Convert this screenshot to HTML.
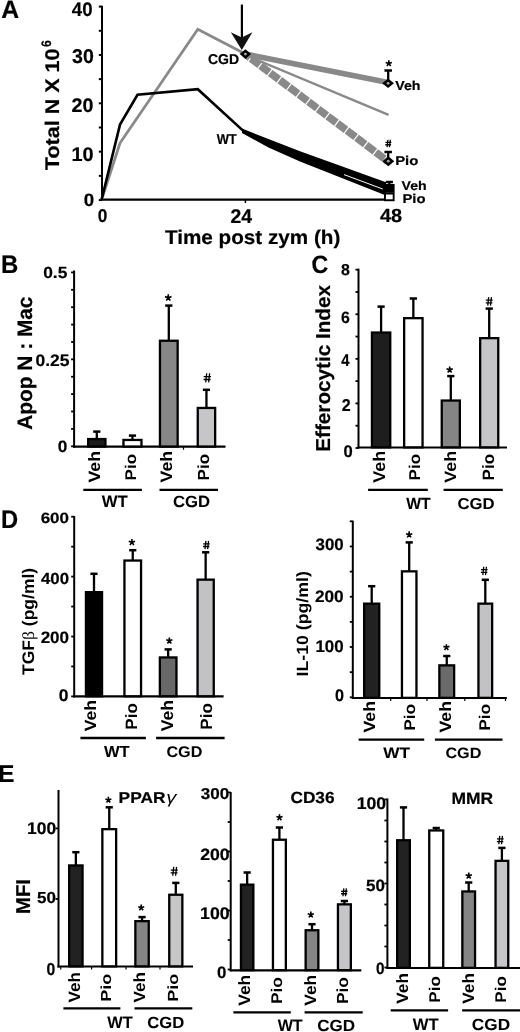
<!DOCTYPE html>
<html><head><meta charset="utf-8"><style>
html,body{margin:0;padding:0;background:#fff;}
body{width:520px;height:1032px;overflow:hidden;}
svg{display:block;filter:blur(0.3px);}
text{font-family:"Liberation Sans", sans-serif;text-rendering:geometricPrecision;}
</style></head><body>
<svg width="520" height="1032" viewBox="0 0 520 1032">
<rect width="520" height="1032" fill="#fff"/>
<text transform="translate(1.33,17.55) scale(0.9825,1)" font-size="25.22" font-family='"Liberation Sans", sans-serif' font-weight="bold" style="" fill="#000" stroke="#000" stroke-width="0.2">A</text>
<line x1="102" y1="5.8" x2="102" y2="201" stroke="#000" stroke-width="2" />
<line x1="98.8" y1="6.6" x2="102" y2="6.6" stroke="#000" stroke-width="2" />
<line x1="98.8" y1="30.78" x2="102" y2="30.78" stroke="#000" stroke-width="2" />
<line x1="98.8" y1="54.96" x2="102" y2="54.96" stroke="#000" stroke-width="2" />
<line x1="98.8" y1="79.13999999999999" x2="102" y2="79.13999999999999" stroke="#000" stroke-width="2" />
<line x1="98.8" y1="103.32" x2="102" y2="103.32" stroke="#000" stroke-width="2" />
<line x1="98.8" y1="127.5" x2="102" y2="127.5" stroke="#000" stroke-width="2" />
<line x1="98.8" y1="151.67999999999998" x2="102" y2="151.67999999999998" stroke="#000" stroke-width="2" />
<line x1="98.8" y1="175.85999999999999" x2="102" y2="175.85999999999999" stroke="#000" stroke-width="2" />
<line x1="98.8" y1="200.04" x2="102" y2="200.04" stroke="#000" stroke-width="2" />
<text transform="translate(71.87,15.95) scale(0.9538,1)" font-size="19.58" font-family='"Liberation Sans", sans-serif' font-weight="bold" style="" fill="#000" stroke="#000" stroke-width="0.2">40</text>
<text transform="translate(72.06,62.55) scale(0.9761,1)" font-size="20.00" font-family='"Liberation Sans", sans-serif' font-weight="bold" style="" fill="#000" stroke="#000" stroke-width="0.2">30</text>
<text transform="translate(71.46,112.25) scale(1.0068,1)" font-size="19.58" font-family='"Liberation Sans", sans-serif' font-weight="bold" style="" fill="#000" stroke="#000" stroke-width="0.2">20</text>
<text transform="translate(71.46,160.65) scale(1.0093,1)" font-size="19.72" font-family='"Liberation Sans", sans-serif' font-weight="bold" style="" fill="#000" stroke="#000" stroke-width="0.2">10</text>
<text transform="translate(83.80,205.97) scale(1.0475,1)" font-size="17.89" font-family='"Liberation Sans", sans-serif' font-weight="bold" style="" fill="#000" stroke="#000" stroke-width="0.2">0</text>
<line x1="101" y1="199.7" x2="389" y2="199.7" stroke="#000" stroke-width="2.2" />
<line x1="245.4" y1="200" x2="245.4" y2="203" stroke="#000" stroke-width="1.5" />
<text transform="translate(97.66,222.16) scale(0.9285,1)" font-size="18.59" font-family='"Liberation Sans", sans-serif' font-weight="bold" style="" fill="#000" stroke="#000" stroke-width="0.2">0</text>
<text transform="translate(230.47,222.55) scale(0.9790,1)" font-size="19.86" font-family='"Liberation Sans", sans-serif' font-weight="bold" style="" fill="#000" stroke="#000" stroke-width="0.2">24</text>
<text transform="translate(380.05,222.16) scale(1.0469,1)" font-size="19.01" font-family='"Liberation Sans", sans-serif' font-weight="bold" style="" fill="#000" stroke="#000" stroke-width="0.2">48</text>
<text transform="translate(164.94,243.50) scale(1.0452,1)" font-size="19.79" font-family='"Liberation Sans", sans-serif' font-weight="bold" style="" fill="#000" stroke="#000" stroke-width="0.2">Time post zym (h)</text>
<text transform="translate(58.70,170.17) rotate(-90) scale(1.0889,1)" font-size="19.79" font-family='"Liberation Sans", sans-serif' font-weight="bold" fill="#000" stroke="#000" stroke-width="0.2">Total N X 10</text>
<text transform="translate(50.71,47.08) rotate(-90) scale(0.8813,1)" font-size="13.80" font-family='"Liberation Sans", sans-serif' font-weight="bold" fill="#000" stroke="#000" stroke-width="0.2">6</text>
<line x1="241.9" y1="4.6" x2="241.9" y2="38" stroke="#000" stroke-width="2.2" />
<polygon points="230.8,32.2 241.8,37.6 252.4,32.2 241.8,50" fill="#111"/>
<polyline points="101.5,200 120,143 197.8,29.2 245.4,54" fill="none" stroke="#898989" stroke-width="2.8" stroke-linejoin="miter"/>
<line x1="246" y1="55.3" x2="388.6" y2="114.8" stroke="#898989" stroke-width="2.4" />
<line x1="245.4" y1="54" x2="388.1" y2="82.6" stroke="#898989" stroke-width="5.6" />
<line x1="247" y1="55.5" x2="387.7" y2="161.2" stroke="#898989" stroke-width="7.6" stroke-dasharray="10.8 1.2" stroke-dashoffset="7"/>
<polyline points="101.5,200 120,124.6 137.5,94.8 197.8,89.2 243,130.6" fill="none" stroke="#000" stroke-width="2.6" stroke-linejoin="miter"/>
<polygon points="242,128.6 300,151.3 386,182.3 386,195.5 300,161.4 268.5,147.5 242,133" fill="#000"/>
<line x1="344" y1="174.6" x2="382.7" y2="189" stroke="#fff" stroke-width="1" />
<rect x="385.15" y="185.15" width="8.30" height="6.50" fill="#000" stroke="#000" stroke-width="2.3"/>
<line x1="389.3" y1="184.5" x2="389.3" y2="182" stroke="#000" stroke-width="2.3" />
<line x1="385.7" y1="182" x2="392.90000000000003" y2="182" stroke="#000" stroke-width="2.5" />
<rect x="384.95" y="193.55" width="8.70" height="6.70" fill="#fff" stroke="#000" stroke-width="1.9"/>
<polygon points="245.4,49.2 251.1,54.1 245.4,59.0 239.70000000000002,54.1" fill="#000"/>
<circle cx="245.4" cy="54.1" r="1.4" fill="#aaa"/>
<line x1="388.2" y1="80" x2="388.2" y2="70.5" stroke="#000" stroke-width="2.3" />
<line x1="384.45" y1="70.5" x2="391.95" y2="70.5" stroke="#000" stroke-width="2.5" />
<polygon points="388.1,78.5 394.0,83.3 388.1,88.1 382.20000000000005,83.3" fill="#000"/>
<circle cx="388.1" cy="83.3" r="1.4" fill="#aaa"/>
<line x1="388.2" y1="157" x2="388.2" y2="152" stroke="#000" stroke-width="2.3" />
<line x1="384.45" y1="152" x2="391.95" y2="152" stroke="#000" stroke-width="2.5" />
<polygon points="388.3,156.2 394.3,161.2 388.3,166.2 382.3,161.2" fill="#000"/>
<circle cx="388.3" cy="161.2" r="1.4" fill="#aaa"/>
<path d="M388.80,63.41L388.80,60.16M388.80,63.41L391.89,62.41M388.80,63.41L390.71,66.05M388.80,63.41L386.89,66.05M388.80,63.41L385.71,62.41" stroke="#000" stroke-width="1.6" stroke-linecap="butt" fill="none"/>
<path d="M387.93,139.70L387.10,147.10M390.30,139.70L389.47,147.10M385.44,142.36L391.36,142.36M385.34,144.73L391.07,144.73" stroke="#000" stroke-width="1.3" fill="none"/>
<text transform="translate(207.99,64.21) scale(0.9855,1)" font-size="14.23" font-family='"Liberation Sans", sans-serif' font-weight="bold" style="" fill="#000" stroke="#000" stroke-width="0.2">CGD</text>
<text transform="translate(216.65,144.25) scale(0.9022,1)" font-size="14.35" font-family='"Liberation Sans", sans-serif' font-weight="bold" style="" fill="#000" stroke="#000" stroke-width="0.2">WT</text>
<text transform="translate(395.28,89.92) scale(1.0962,1)" font-size="12.93" font-family='"Liberation Sans", sans-serif' font-weight="bold" style="" fill="#000" stroke="#000" stroke-width="0.2">Veh</text>
<text transform="translate(395.18,165.32) scale(1.1773,1)" font-size="12.65" font-family='"Liberation Sans", sans-serif' font-weight="bold" style="" fill="#000" stroke="#000" stroke-width="0.2">Pio</text>
<text transform="translate(401.48,189.92) scale(1.1079,1)" font-size="12.79" font-family='"Liberation Sans", sans-serif' font-weight="bold" style="" fill="#000" stroke="#000" stroke-width="0.2">Veh</text>
<text transform="translate(402.39,203.32) scale(1.1719,1)" font-size="12.65" font-family='"Liberation Sans", sans-serif' font-weight="bold" style="" fill="#000" stroke="#000" stroke-width="0.2">Pio</text>
<text transform="translate(1.09,273.35) scale(0.9437,1)" font-size="25.36" font-family='"Liberation Sans", sans-serif' font-weight="bold" style="" fill="#000" stroke="#000" stroke-width="0.2">B</text>
<line x1="74.1" y1="270.5" x2="74.1" y2="447.7" stroke="#000" stroke-width="2" />
<line x1="71.1" y1="446.3" x2="74.1" y2="446.3" stroke="#000" stroke-width="1.8" />
<line x1="71.1" y1="428.91" x2="74.1" y2="428.91" stroke="#000" stroke-width="1.8" />
<line x1="71.1" y1="411.52" x2="74.1" y2="411.52" stroke="#000" stroke-width="1.8" />
<line x1="71.1" y1="394.13" x2="74.1" y2="394.13" stroke="#000" stroke-width="1.8" />
<line x1="71.1" y1="376.74" x2="74.1" y2="376.74" stroke="#000" stroke-width="1.8" />
<line x1="71.1" y1="359.35" x2="74.1" y2="359.35" stroke="#000" stroke-width="1.8" />
<line x1="71.1" y1="341.96000000000004" x2="74.1" y2="341.96000000000004" stroke="#000" stroke-width="1.8" />
<line x1="71.1" y1="324.57" x2="74.1" y2="324.57" stroke="#000" stroke-width="1.8" />
<line x1="71.1" y1="307.18" x2="74.1" y2="307.18" stroke="#000" stroke-width="1.8" />
<line x1="71.1" y1="289.79" x2="74.1" y2="289.79" stroke="#000" stroke-width="1.8" />
<line x1="71.1" y1="272.4" x2="74.1" y2="272.4" stroke="#000" stroke-width="1.8" />
<line x1="73.1" y1="446.7" x2="225.5" y2="446.7" stroke="#000" stroke-width="2.2" />
<line x1="183.5" y1="446.7" x2="183.5" y2="449.7" stroke="#000" stroke-width="1.2" />
<rect x="88.15" y="439.05" width="17.30" height="7.50" fill="#1c1c1c" stroke="#000" stroke-width="2.3"/>
<line x1="96.8" y1="438.9" x2="96.8" y2="431.6" stroke="#000" stroke-width="2.3" />
<line x1="93.2" y1="431.6" x2="100.39999999999999" y2="431.6" stroke="#000" stroke-width="2.5" />
<rect x="123.45" y="439.95" width="18.00" height="6.60" fill="#fff" stroke="#000" stroke-width="2.3"/>
<line x1="132.45" y1="439.8" x2="132.45" y2="435.6" stroke="#000" stroke-width="2.3" />
<line x1="128.85" y1="435.6" x2="136.04999999999998" y2="435.6" stroke="#000" stroke-width="2.5" />
<rect x="159.95" y="340.75" width="17.70" height="105.80" fill="#878787" stroke="#000" stroke-width="2.3"/>
<line x1="168.8" y1="340.6" x2="168.8" y2="305.6" stroke="#000" stroke-width="2.3" />
<line x1="165.20000000000002" y1="305.6" x2="172.4" y2="305.6" stroke="#000" stroke-width="2.5" />
<path d="M168.25,297.68L168.25,294.26M168.25,297.68L171.50,296.62M168.25,297.68L170.26,300.45M168.25,297.68L166.24,300.45M168.25,297.68L165.00,296.62" stroke="#000" stroke-width="1.6" stroke-linecap="butt" fill="none"/>
<rect x="197.75" y="407.95" width="17.40" height="38.60" fill="#c6c6c8" stroke="#000" stroke-width="2.3"/>
<line x1="206.45" y1="407.8" x2="206.45" y2="389.8" stroke="#000" stroke-width="2.3" />
<line x1="202.85" y1="389.8" x2="210.04999999999998" y2="389.8" stroke="#000" stroke-width="2.5" />
<path d="M206.72,373.30L205.70,382.40M209.62,373.30L208.61,382.40M203.67,376.58L210.93,376.58M203.57,379.49L210.56,379.49" stroke="#000" stroke-width="1.3" fill="none"/>
<text transform="translate(43.16,278.29) scale(1.0811,1)" font-size="16.06" font-family='"Liberation Sans", sans-serif' font-weight="bold" style="" fill="#000" stroke="#000" stroke-width="0.2">0.5</text>
<text transform="translate(35.55,365.88) scale(1.0498,1)" font-size="16.62" font-family='"Liberation Sans", sans-serif' font-weight="bold" style="" fill="#000" stroke="#000" stroke-width="0.2">0.25</text>
<text transform="translate(57.76,452.39) scale(1.0476,1)" font-size="16.48" font-family='"Liberation Sans", sans-serif' font-weight="bold" style="" fill="#000" stroke="#000" stroke-width="0.2">0</text>
<text transform="translate(31.90,429.67) rotate(-90) scale(0.9950,1)" font-size="20.94" font-family='"Liberation Sans", sans-serif' font-weight="bold" fill="#000" stroke="#000" stroke-width="0.2">Apop N : Mac</text>
<text transform="translate(100.39,482.44) rotate(-90) scale(1.0732,1)" font-size="16.46" font-family='"Liberation Sans", sans-serif' font-weight="bold" fill="#000">Veh</text>
<text transform="translate(135.99,480.46) rotate(-90) scale(1.1027,1)" font-size="15.51" font-family='"Liberation Sans", sans-serif' font-weight="bold" fill="#000">Pio</text>
<text transform="translate(172.08,482.44) rotate(-90) scale(1.0714,1)" font-size="16.60" font-family='"Liberation Sans", sans-serif' font-weight="bold" fill="#000">Veh</text>
<text transform="translate(209.39,480.46) rotate(-90) scale(1.0653,1)" font-size="16.05" font-family='"Liberation Sans", sans-serif' font-weight="bold" fill="#000">Pio</text>
<line x1="83.3" y1="489.8" x2="141.9" y2="489.8" stroke="#000" stroke-width="2.3" />
<line x1="159.5" y1="489.8" x2="218" y2="489.8" stroke="#000" stroke-width="2.3" />
<text transform="translate(101.65,507.35) scale(1.0058,1)" font-size="16.67" font-family='"Liberation Sans", sans-serif' font-weight="bold" style="" fill="#000" stroke="#000" stroke-width="0.05">WT</text>
<text transform="translate(172.88,507.19) scale(1.0328,1)" font-size="16.20" font-family='"Liberation Sans", sans-serif' font-weight="bold" style="" fill="#000" stroke="#000" stroke-width="0.05">CGD</text>
<text transform="translate(311.62,273.10) scale(0.9256,1)" font-size="25.07" font-family='"Liberation Sans", sans-serif' font-weight="bold" style="" fill="#000" stroke="#000" stroke-width="0.2">C</text>
<line x1="358.5" y1="268.7" x2="358.5" y2="448.5" stroke="#000" stroke-width="2" />
<line x1="355.5" y1="448.0" x2="358.5" y2="448.0" stroke="#000" stroke-width="1.8" />
<line x1="355.5" y1="425.71" x2="358.5" y2="425.71" stroke="#000" stroke-width="1.8" />
<line x1="355.5" y1="403.42" x2="358.5" y2="403.42" stroke="#000" stroke-width="1.8" />
<line x1="355.5" y1="381.13" x2="358.5" y2="381.13" stroke="#000" stroke-width="1.8" />
<line x1="355.5" y1="358.84000000000003" x2="358.5" y2="358.84000000000003" stroke="#000" stroke-width="1.8" />
<line x1="355.5" y1="336.55" x2="358.5" y2="336.55" stroke="#000" stroke-width="1.8" />
<line x1="355.5" y1="314.26" x2="358.5" y2="314.26" stroke="#000" stroke-width="1.8" />
<line x1="355.5" y1="291.97" x2="358.5" y2="291.97" stroke="#000" stroke-width="1.8" />
<line x1="355.5" y1="269.68" x2="358.5" y2="269.68" stroke="#000" stroke-width="1.8" />
<line x1="357.5" y1="447.5" x2="507" y2="447.5" stroke="#000" stroke-width="2.2" />
<rect x="371.95" y="332.55" width="18.30" height="114.80" fill="#1e1e1e" stroke="#000" stroke-width="2.3"/>
<line x1="381.1" y1="332.4" x2="381.1" y2="306.6" stroke="#000" stroke-width="2.3" />
<line x1="377.5" y1="306.6" x2="384.70000000000005" y2="306.6" stroke="#000" stroke-width="2.5" />
<rect x="404.15" y="318.15" width="18.40" height="129.20" fill="#fff" stroke="#000" stroke-width="2.3"/>
<line x1="413.35" y1="318" x2="413.35" y2="298.5" stroke="#000" stroke-width="2.3" />
<line x1="409.75" y1="298.5" x2="416.95000000000005" y2="298.5" stroke="#000" stroke-width="2.5" />
<rect x="441.75" y="400.55" width="18.10" height="46.80" fill="#858585" stroke="#000" stroke-width="2.3"/>
<line x1="450.8" y1="400.4" x2="450.8" y2="376.1" stroke="#000" stroke-width="2.3" />
<line x1="447.2" y1="376.1" x2="454.40000000000003" y2="376.1" stroke="#000" stroke-width="2.5" />
<path d="M449.65,369.87L449.65,366.56M449.65,369.87L452.80,368.85M449.65,369.87L451.60,372.55M449.65,369.87L447.70,372.55M449.65,369.87L446.50,368.85" stroke="#000" stroke-width="1.6" stroke-linecap="butt" fill="none"/>
<rect x="480.15" y="338.15" width="18.10" height="109.20" fill="#c6c6c8" stroke="#000" stroke-width="2.3"/>
<line x1="489.2" y1="338" x2="489.2" y2="308.6" stroke="#000" stroke-width="2.3" />
<line x1="485.59999999999997" y1="308.6" x2="492.8" y2="308.6" stroke="#000" stroke-width="2.5" />
<path d="M488.71,297.10L487.76,305.60M491.42,297.10L490.47,305.60M485.86,300.16L492.64,300.16M485.76,302.88L492.30,302.88" stroke="#000" stroke-width="1.3" fill="none"/>
<text transform="translate(340.97,275.09) scale(1.0208,1)" font-size="15.63" font-family='"Liberation Sans", sans-serif' font-weight="bold" style="" fill="#000" stroke="#000" stroke-width="0.2">8</text>
<text transform="translate(341.09,322.99) scale(0.9634,1)" font-size="16.48" font-family='"Liberation Sans", sans-serif' font-weight="bold" style="" fill="#000" stroke="#000" stroke-width="0.2">6</text>
<text transform="translate(341.23,366.05) scale(0.8708,1)" font-size="16.96" font-family='"Liberation Sans", sans-serif' font-weight="bold" style="" fill="#000" stroke="#000" stroke-width="0.2">4</text>
<text transform="translate(341.69,411.35) scale(0.9358,1)" font-size="17.14" font-family='"Liberation Sans", sans-serif' font-weight="bold" style="" fill="#000" stroke="#000" stroke-width="0.2">2</text>
<text transform="translate(343.38,457.08) scale(0.9840,1)" font-size="16.90" font-family='"Liberation Sans", sans-serif' font-weight="bold" style="" fill="#000" stroke="#000" stroke-width="0.2">0</text>
<text transform="translate(330.00,451.80) rotate(-90) scale(1.0257,1)" font-size="20.21" font-family='"Liberation Sans", sans-serif' font-weight="bold" fill="#000" stroke="#000" stroke-width="0.2">Efferocytic Index</text>
<text transform="translate(384.68,482.74) rotate(-90) scale(1.0560,1)" font-size="17.01" font-family='"Liberation Sans", sans-serif' font-weight="bold" fill="#000">Veh</text>
<text transform="translate(420.39,480.46) rotate(-90) scale(1.0931,1)" font-size="15.65" font-family='"Liberation Sans", sans-serif' font-weight="bold" fill="#000">Pio</text>
<text transform="translate(455.99,482.74) rotate(-90) scale(1.0909,1)" font-size="16.46" font-family='"Liberation Sans", sans-serif' font-weight="bold" fill="#000">Veh</text>
<text transform="translate(493.69,480.46) rotate(-90) scale(1.0389,1)" font-size="16.46" font-family='"Liberation Sans", sans-serif' font-weight="bold" fill="#000">Pio</text>
<line x1="368.1" y1="489.8" x2="427.8" y2="489.8" stroke="#000" stroke-width="2.3" />
<line x1="443.6" y1="489.8" x2="502.8" y2="489.8" stroke="#000" stroke-width="2.3" />
<text transform="translate(406.15,508.85) scale(0.9690,1)" font-size="16.23" font-family='"Liberation Sans", sans-serif' font-weight="bold" style="" fill="#000" stroke="#000" stroke-width="0.05">WT</text>
<text transform="translate(457.38,508.69) scale(1.0605,1)" font-size="15.77" font-family='"Liberation Sans", sans-serif' font-weight="bold" style="" fill="#000" stroke="#000" stroke-width="0.05">CGD</text>
<text transform="translate(1.11,528.05) scale(0.9307,1)" font-size="25.51" font-family='"Liberation Sans", sans-serif' font-weight="bold" style="" fill="#000" stroke="#000" stroke-width="0.2">D</text>
<line x1="74.2" y1="516" x2="74.2" y2="697.4" stroke="#000" stroke-width="2" />
<line x1="71.2" y1="696.4" x2="74.2" y2="696.4" stroke="#000" stroke-width="1.8" />
<line x1="71.2" y1="666.4499999999999" x2="74.2" y2="666.4499999999999" stroke="#000" stroke-width="1.8" />
<line x1="71.2" y1="636.5" x2="74.2" y2="636.5" stroke="#000" stroke-width="1.8" />
<line x1="71.2" y1="606.55" x2="74.2" y2="606.55" stroke="#000" stroke-width="1.8" />
<line x1="71.2" y1="576.6" x2="74.2" y2="576.6" stroke="#000" stroke-width="1.8" />
<line x1="71.2" y1="546.65" x2="74.2" y2="546.65" stroke="#000" stroke-width="1.8" />
<line x1="71.2" y1="516.7" x2="74.2" y2="516.7" stroke="#000" stroke-width="1.8" />
<line x1="73.2" y1="696.4" x2="223.6" y2="696.4" stroke="#000" stroke-width="2.2" />
<rect x="85.95" y="592.15" width="16.10" height="104.10" fill="#000" stroke="#000" stroke-width="2.3"/>
<line x1="94.0" y1="592" x2="94.0" y2="573.8" stroke="#000" stroke-width="2.3" />
<line x1="90.4" y1="573.8" x2="97.6" y2="573.8" stroke="#000" stroke-width="2.5" />
<rect x="124.45" y="560.55" width="16.60" height="135.70" fill="#fff" stroke="#000" stroke-width="2.3"/>
<line x1="132.75" y1="560.4" x2="132.75" y2="550.2" stroke="#000" stroke-width="2.3" />
<line x1="129.15" y1="550.2" x2="136.35" y2="550.2" stroke="#000" stroke-width="2.5" />
<path d="M131.90,542.37L131.90,539.06M131.90,542.37L135.05,541.35M131.90,542.37L133.85,545.05M131.90,542.37L129.95,545.05M131.90,542.37L128.75,541.35" stroke="#000" stroke-width="1.6" stroke-linecap="butt" fill="none"/>
<rect x="159.85" y="657.45" width="16.60" height="38.80" fill="#686868" stroke="#000" stroke-width="2.3"/>
<line x1="168.14999999999998" y1="657.3" x2="168.14999999999998" y2="649.4" stroke="#000" stroke-width="2.3" />
<line x1="164.54999999999998" y1="649.4" x2="171.74999999999997" y2="649.4" stroke="#000" stroke-width="2.5" />
<path d="M169.35,640.81L169.35,637.56M169.35,640.81L172.44,639.81M169.35,640.81L171.26,643.45M169.35,640.81L167.44,643.45M169.35,640.81L166.26,639.81" stroke="#000" stroke-width="1.6" stroke-linecap="butt" fill="none"/>
<rect x="197.55" y="579.65" width="16.20" height="116.60" fill="#c2c2c4" stroke="#000" stroke-width="2.3"/>
<line x1="205.65" y1="579.5" x2="205.65" y2="552.3" stroke="#000" stroke-width="2.3" />
<line x1="202.05" y1="552.3" x2="209.25" y2="552.3" stroke="#000" stroke-width="2.5" />
<path d="M205.93,540.90L205.01,549.10M208.55,540.90L207.63,549.10M203.17,543.85L209.73,543.85M203.07,546.48L209.40,546.48" stroke="#000" stroke-width="1.3" fill="none"/>
<text transform="translate(40.65,522.80) scale(1.1525,1)" font-size="14.79" font-family='"Liberation Sans", sans-serif' font-weight="bold" style="" fill="#000" stroke="#000" stroke-width="0.2">600</text>
<text transform="translate(41.00,583.69) scale(1.0483,1)" font-size="16.06" font-family='"Liberation Sans", sans-serif' font-weight="bold" style="" fill="#000" stroke="#000" stroke-width="0.2">400</text>
<text transform="translate(40.65,643.39) scale(1.0343,1)" font-size="16.48" font-family='"Liberation Sans", sans-serif' font-weight="bold" style="" fill="#000" stroke="#000" stroke-width="0.2">200</text>
<text transform="translate(58.85,701.08) scale(1.0339,1)" font-size="16.90" font-family='"Liberation Sans", sans-serif' font-weight="bold" style="" fill="#000" stroke="#000" stroke-width="0.2">0</text>
<text transform="translate(96.29,731.34) rotate(-90) scale(1.0786,1)" font-size="16.33" font-family='"Liberation Sans", sans-serif' font-weight="bold" fill="#000">Veh</text>
<text transform="translate(136.69,729.67) rotate(-90) scale(1.0431,1)" font-size="16.46" font-family='"Liberation Sans", sans-serif' font-weight="bold" fill="#000">Pio</text>
<text transform="translate(172.78,731.34) rotate(-90) scale(1.0354,1)" font-size="17.01" font-family='"Liberation Sans", sans-serif' font-weight="bold" fill="#000">Veh</text>
<text transform="translate(212.09,729.67) rotate(-90) scale(1.0431,1)" font-size="16.46" font-family='"Liberation Sans", sans-serif' font-weight="bold" fill="#000">Pio</text>
<line x1="80.4" y1="738" x2="145.9" y2="738" stroke="#000" stroke-width="2.3" />
<line x1="156.1" y1="738" x2="224.6" y2="738" stroke="#000" stroke-width="2.3" />
<text transform="translate(103.95,756.85) scale(1.0394,1)" font-size="15.94" font-family='"Liberation Sans", sans-serif' font-weight="bold" style="" fill="#000" stroke="#000" stroke-width="0.05">WT</text>
<text transform="translate(166.40,756.70) scale(1.0436,1)" font-size="15.49" font-family='"Liberation Sans", sans-serif' font-weight="bold" style="" fill="#000" stroke="#000" stroke-width="0.05">CGD</text>
<text transform="translate(33.90,674.92) rotate(-90) scale(1.0442,1)" font-size="16.76" font-family='"Liberation Sans", sans-serif' font-weight="bold" fill="#000">TGF<tspan font-weight="normal" font-family="Liberation Serif, serif">β</tspan> (pg/ml)</text>
<line x1="352.8" y1="520.7" x2="352.8" y2="699" stroke="#000" stroke-width="2" />
<line x1="349.8" y1="697.3" x2="352.8" y2="697.3" stroke="#000" stroke-width="1.8" />
<line x1="349.8" y1="672.16" x2="352.8" y2="672.16" stroke="#000" stroke-width="1.8" />
<line x1="349.8" y1="647.02" x2="352.8" y2="647.02" stroke="#000" stroke-width="1.8" />
<line x1="349.8" y1="621.88" x2="352.8" y2="621.88" stroke="#000" stroke-width="1.8" />
<line x1="349.8" y1="596.74" x2="352.8" y2="596.74" stroke="#000" stroke-width="1.8" />
<line x1="349.8" y1="571.5999999999999" x2="352.8" y2="571.5999999999999" stroke="#000" stroke-width="1.8" />
<line x1="349.8" y1="546.4599999999999" x2="352.8" y2="546.4599999999999" stroke="#000" stroke-width="1.8" />
<line x1="349.8" y1="521.3199999999999" x2="352.8" y2="521.3199999999999" stroke="#000" stroke-width="1.8" />
<line x1="351.8" y1="698" x2="506.8" y2="698" stroke="#000" stroke-width="2.2" />
<line x1="390.7" y1="698" x2="390.7" y2="701" stroke="#000" stroke-width="1.2" />
<line x1="427" y1="698" x2="427" y2="701" stroke="#000" stroke-width="1.2" />
<line x1="464.8" y1="698" x2="464.8" y2="701" stroke="#000" stroke-width="1.2" />
<line x1="505.5" y1="698" x2="505.5" y2="701" stroke="#000" stroke-width="1.2" />
<rect x="364.15" y="603.65" width="15.10" height="94.20" fill="#222" stroke="#000" stroke-width="2.3"/>
<line x1="371.7" y1="603.5" x2="371.7" y2="586.2" stroke="#000" stroke-width="2.3" />
<line x1="368.09999999999997" y1="586.2" x2="375.3" y2="586.2" stroke="#000" stroke-width="2.5" />
<rect x="401.95" y="571.35" width="14.50" height="126.50" fill="#fff" stroke="#000" stroke-width="2.3"/>
<line x1="409.20000000000005" y1="571.2" x2="409.20000000000005" y2="542.4" stroke="#000" stroke-width="2.3" />
<line x1="405.6" y1="542.4" x2="412.80000000000007" y2="542.4" stroke="#000" stroke-width="2.5" />
<path d="M409.15,534.67L409.15,531.36M409.15,534.67L412.30,533.65M409.15,534.67L411.10,537.35M409.15,534.67L407.20,537.35M409.15,534.67L406.00,533.65" stroke="#000" stroke-width="1.6" stroke-linecap="butt" fill="none"/>
<rect x="439.35" y="665.35" width="14.80" height="32.50" fill="#6a6a6a" stroke="#000" stroke-width="2.3"/>
<line x1="446.75" y1="665.2" x2="446.75" y2="656" stroke="#000" stroke-width="2.3" />
<line x1="443.15" y1="656" x2="450.35" y2="656" stroke="#000" stroke-width="2.5" />
<path d="M446.40,647.36L446.40,644.16M446.40,647.36L449.44,646.37M446.40,647.36L448.28,649.95M446.40,647.36L444.52,649.95M446.40,647.36L443.36,646.37" stroke="#000" stroke-width="1.6" stroke-linecap="butt" fill="none"/>
<rect x="478.45" y="603.65" width="13.70" height="94.20" fill="#c2c2c4" stroke="#000" stroke-width="2.3"/>
<line x1="485.3" y1="603.5" x2="485.3" y2="579.8" stroke="#000" stroke-width="2.3" />
<line x1="481.7" y1="579.8" x2="488.90000000000003" y2="579.8" stroke="#000" stroke-width="2.5" />
<path d="M483.76,566.70L482.82,575.10M486.45,566.70L485.51,575.10M480.95,569.72L487.65,569.72M480.85,572.41L487.32,572.41" stroke="#000" stroke-width="1.3" fill="none"/>
<text transform="translate(315.53,549.78) scale(1.0154,1)" font-size="16.62" font-family='"Liberation Sans", sans-serif' font-weight="bold" style="" fill="#000" stroke="#000" stroke-width="0.2">300</text>
<text transform="translate(314.95,602.18) scale(1.0369,1)" font-size="16.62" font-family='"Liberation Sans", sans-serif' font-weight="bold" style="" fill="#000" stroke="#000" stroke-width="0.2">200</text>
<text transform="translate(315.43,652.38) scale(1.0103,1)" font-size="16.76" font-family='"Liberation Sans", sans-serif' font-weight="bold" style="" fill="#000" stroke="#000" stroke-width="0.2">100</text>
<text transform="translate(334.90,701.48) scale(0.9591,1)" font-size="16.90" font-family='"Liberation Sans", sans-serif' font-weight="bold" style="" fill="#000" stroke="#000" stroke-width="0.2">0</text>
<text transform="translate(307.70,676.40) rotate(-90) scale(1.0841,1)" font-size="16.34" font-family='"Liberation Sans", sans-serif' font-weight="bold" fill="#000">IL-10 (pg/ml)</text>
<text transform="translate(374.99,732.44) rotate(-90) scale(1.0821,1)" font-size="16.33" font-family='"Liberation Sans", sans-serif' font-weight="bold" fill="#000">Veh</text>
<text transform="translate(415.09,730.78) rotate(-90) scale(1.1161,1)" font-size="15.51" font-family='"Liberation Sans", sans-serif' font-weight="bold" fill="#000">Pio</text>
<text transform="translate(450.99,732.44) rotate(-90) scale(1.0732,1)" font-size="16.46" font-family='"Liberation Sans", sans-serif' font-weight="bold" fill="#000">Veh</text>
<text transform="translate(490.09,730.78) rotate(-90) scale(1.1161,1)" font-size="15.51" font-family='"Liberation Sans", sans-serif' font-weight="bold" fill="#000">Pio</text>
<line x1="358.6" y1="739.6" x2="424.2" y2="739.6" stroke="#000" stroke-width="2.3" />
<line x1="434.9" y1="739.6" x2="502.5" y2="739.6" stroke="#000" stroke-width="2.3" />
<text transform="translate(383.35,758.05) scale(1.1207,1)" font-size="15.36" font-family='"Liberation Sans", sans-serif' font-weight="bold" style="" fill="#000" stroke="#000" stroke-width="0.05">WT</text>
<text transform="translate(445.40,757.90) scale(1.0830,1)" font-size="14.93" font-family='"Liberation Sans", sans-serif' font-weight="bold" style="" fill="#000" stroke="#000" stroke-width="0.05">CGD</text>
<text transform="translate(-2.05,782.15) scale(1.0045,1)" font-size="24.49" font-family='"Liberation Sans", sans-serif' font-weight="bold" style="" fill="#000" stroke="#000" stroke-width="0.2">E</text>
<line x1="58.5" y1="790" x2="58.5" y2="967.5" stroke="#000" stroke-width="2" />
<line x1="55.5" y1="828.4" x2="58.5" y2="828.4" stroke="#000" stroke-width="1.8" />
<line x1="55.5" y1="899" x2="58.5" y2="899" stroke="#000" stroke-width="1.8" />
<line x1="57.5" y1="966.5" x2="193" y2="966.5" stroke="#000" stroke-width="2.2" />
<line x1="60.8" y1="966.5" x2="60.8" y2="969.5" stroke="#000" stroke-width="1.2" />
<line x1="91.6" y1="966.5" x2="91.6" y2="969.5" stroke="#000" stroke-width="1.2" />
<line x1="126" y1="966.5" x2="126" y2="969.5" stroke="#000" stroke-width="1.2" />
<line x1="160" y1="966.5" x2="160" y2="969.5" stroke="#000" stroke-width="1.2" />
<rect x="69.15" y="865.45" width="13.40" height="100.90" fill="#222" stroke="#000" stroke-width="2.3"/>
<line x1="75.85" y1="865.3" x2="75.85" y2="852.2" stroke="#000" stroke-width="2.3" />
<line x1="72.25" y1="852.2" x2="79.44999999999999" y2="852.2" stroke="#000" stroke-width="2.5" />
<rect x="102.35" y="829.15" width="13.80" height="137.20" fill="#fff" stroke="#000" stroke-width="2.3"/>
<line x1="109.25" y1="829" x2="109.25" y2="807.3" stroke="#000" stroke-width="2.3" />
<line x1="105.65" y1="807.3" x2="112.85" y2="807.3" stroke="#000" stroke-width="2.5" />
<path d="M108.40,800.00L108.40,796.86M108.40,800.00L111.39,799.03M108.40,800.00L110.25,802.55M108.40,800.00L106.55,802.55M108.40,800.00L105.41,799.03" stroke="#000" stroke-width="1.6" stroke-linecap="butt" fill="none"/>
<rect x="135.35" y="921.15" width="13.40" height="45.20" fill="#858585" stroke="#000" stroke-width="2.3"/>
<line x1="142.05" y1="921" x2="142.05" y2="917.1" stroke="#000" stroke-width="2.3" />
<line x1="138.45000000000002" y1="917.1" x2="145.65" y2="917.1" stroke="#000" stroke-width="2.5" />
<path d="M141.25,907.70L141.25,904.56M141.25,907.70L144.24,906.73M141.25,907.70L143.10,910.25M141.25,907.70L139.40,910.25M141.25,907.70L138.26,906.73" stroke="#000" stroke-width="1.6" stroke-linecap="butt" fill="none"/>
<rect x="169.25" y="894.75" width="13.10" height="71.60" fill="#c6c6c8" stroke="#000" stroke-width="2.3"/>
<line x1="175.8" y1="894.6" x2="175.8" y2="882.9" stroke="#000" stroke-width="2.3" />
<line x1="172.20000000000002" y1="882.9" x2="179.4" y2="882.9" stroke="#000" stroke-width="2.5" />
<path d="M173.73,866.90L172.74,875.80M176.57,866.90L175.58,875.80M170.75,870.10L177.85,870.10M170.65,872.95L177.49,872.95" stroke="#000" stroke-width="1.3" fill="none"/>
<text transform="translate(27.10,833.58) scale(1.0321,1)" font-size="16.90" font-family='"Liberation Sans", sans-serif' font-weight="bold" style="" fill="#000" stroke="#000" stroke-width="0.2">100</text>
<text transform="translate(36.94,903.39) scale(1.0693,1)" font-size="15.92" font-family='"Liberation Sans", sans-serif' font-weight="bold" style="" fill="#000" stroke="#000" stroke-width="0.2">50</text>
<text transform="translate(46.52,975.28) scale(0.9114,1)" font-size="17.32" font-family='"Liberation Sans", sans-serif' font-weight="bold" style="" fill="#000" stroke="#000" stroke-width="0.2">0</text>
<text transform="translate(30.00,913.97) rotate(-90) scale(1.0121,1)" font-size="20.07" font-family='"Liberation Sans", sans-serif' font-weight="bold" fill="#000" stroke="#000" stroke-width="0.2">MFI</text>
<text transform="translate(79.69,1002.44) rotate(-90) scale(1.0378,1)" font-size="16.46" font-family='"Liberation Sans", sans-serif' font-weight="bold" fill="#000">Veh</text>
<text transform="translate(111.30,1001.82) rotate(-90) scale(1.2412,1)" font-size="14.56" font-family='"Liberation Sans", sans-serif' font-weight="bold" fill="#000">Pio</text>
<text transform="translate(145.39,1002.44) rotate(-90) scale(1.0552,1)" font-size="16.19" font-family='"Liberation Sans", sans-serif' font-weight="bold" fill="#000">Veh</text>
<text transform="translate(177.70,1001.82) rotate(-90) scale(1.2297,1)" font-size="14.69" font-family='"Liberation Sans", sans-serif' font-weight="bold" fill="#000">Pio</text>
<line x1="63.4" y1="1008.4" x2="120.4" y2="1008.4" stroke="#000" stroke-width="2.3" />
<line x1="134.5" y1="1008.4" x2="192.3" y2="1008.4" stroke="#000" stroke-width="2.3" />
<text transform="translate(107.25,1028.35) scale(0.9911,1)" font-size="16.52" font-family='"Liberation Sans", sans-serif' font-weight="bold" style="" fill="#000" stroke="#000" stroke-width="0.05">WT</text>
<text transform="translate(147.28,1028.19) scale(1.0361,1)" font-size="16.06" font-family='"Liberation Sans", sans-serif' font-weight="bold" style="" fill="#000" stroke="#000" stroke-width="0.05">CGD</text>
<text transform="translate(118.62,803.45) scale(1.0990,1)" font-size="15.80" font-family='"Liberation Sans", sans-serif' font-weight="bold" style="" fill="#000" stroke="#000" stroke-width="0.2">PPAR</text>
<text transform="translate(166.24,802.59) scale(1.1888,1)" font-size="17.04" font-family='"Liberation Serif", serif' font-weight="normal" style="font-style:italic;" fill="#000">γ</text>
<line x1="230.7" y1="792" x2="230.7" y2="971.3" stroke="#000" stroke-width="2" />
<line x1="227.7" y1="969.5" x2="230.7" y2="969.5" stroke="#000" stroke-width="1.8" />
<line x1="227.7" y1="940.0" x2="230.7" y2="940.0" stroke="#000" stroke-width="1.8" />
<line x1="227.7" y1="910.5" x2="230.7" y2="910.5" stroke="#000" stroke-width="1.8" />
<line x1="227.7" y1="881.0" x2="230.7" y2="881.0" stroke="#000" stroke-width="1.8" />
<line x1="227.7" y1="851.5" x2="230.7" y2="851.5" stroke="#000" stroke-width="1.8" />
<line x1="227.7" y1="822.0" x2="230.7" y2="822.0" stroke="#000" stroke-width="1.8" />
<line x1="227.7" y1="792.5" x2="230.7" y2="792.5" stroke="#000" stroke-width="1.8" />
<line x1="229.7" y1="970.3" x2="361.3" y2="970.3" stroke="#000" stroke-width="2.2" />
<rect x="240.95" y="884.65" width="12.40" height="85.50" fill="#222" stroke="#000" stroke-width="2.3"/>
<line x1="247.15" y1="884.5" x2="247.15" y2="872.5" stroke="#000" stroke-width="2.3" />
<line x1="243.55" y1="872.5" x2="250.75" y2="872.5" stroke="#000" stroke-width="2.5" />
<rect x="272.95" y="839.75" width="12.90" height="130.40" fill="#fff" stroke="#000" stroke-width="2.3"/>
<line x1="279.4" y1="839.6" x2="279.4" y2="827.5" stroke="#000" stroke-width="2.3" />
<line x1="275.79999999999995" y1="827.5" x2="283.0" y2="827.5" stroke="#000" stroke-width="2.5" />
<path d="M279.50,817.61L279.50,814.36M279.50,817.61L282.59,816.61M279.50,817.61L281.41,820.25M279.50,817.61L277.59,820.25M279.50,817.61L276.41,816.61" stroke="#000" stroke-width="1.6" stroke-linecap="butt" fill="none"/>
<rect x="305.65" y="930.25" width="12.70" height="39.90" fill="#858585" stroke="#000" stroke-width="2.3"/>
<line x1="312.0" y1="930.1" x2="312.0" y2="924.2" stroke="#000" stroke-width="2.3" />
<line x1="308.4" y1="924.2" x2="315.6" y2="924.2" stroke="#000" stroke-width="2.5" />
<path d="M310.80,914.71L310.80,911.46M310.80,914.71L313.89,913.71M310.80,914.71L312.71,917.35M310.80,914.71L308.89,917.35M310.80,914.71L307.71,913.71" stroke="#000" stroke-width="1.6" stroke-linecap="butt" fill="none"/>
<rect x="337.95" y="904.35" width="12.90" height="65.80" fill="#c6c6c8" stroke="#000" stroke-width="2.3"/>
<line x1="344.4" y1="904.2" x2="344.4" y2="901" stroke="#000" stroke-width="2.3" />
<line x1="340.79999999999995" y1="901" x2="348.0" y2="901" stroke="#000" stroke-width="2.5" />
<path d="M343.84,888.40L342.96,896.30M346.37,888.40L345.49,896.30M341.19,891.24L347.51,891.24M341.09,893.77L347.19,893.77" stroke="#000" stroke-width="1.3" fill="none"/>
<text transform="translate(200.72,798.69) scale(1.0816,1)" font-size="15.77" font-family='"Liberation Sans", sans-serif' font-weight="bold" style="" fill="#000" stroke="#000" stroke-width="0.2">300</text>
<text transform="translate(200.13,860.19) scale(1.0817,1)" font-size="16.34" font-family='"Liberation Sans", sans-serif' font-weight="bold" style="" fill="#000" stroke="#000" stroke-width="0.2">200</text>
<text transform="translate(200.09,918.58) scale(1.0472,1)" font-size="16.90" font-family='"Liberation Sans", sans-serif' font-weight="bold" style="" fill="#000" stroke="#000" stroke-width="0.2">100</text>
<text transform="translate(216.88,978.28) scale(1.0134,1)" font-size="16.62" font-family='"Liberation Sans", sans-serif' font-weight="bold" style="" fill="#000" stroke="#000" stroke-width="0.2">0</text>
<text transform="translate(249.69,1005.74) rotate(-90) scale(1.0590,1)" font-size="16.46" font-family='"Liberation Sans", sans-serif' font-weight="bold" fill="#000">Veh</text>
<text transform="translate(281.99,1004.08) rotate(-90) scale(1.1205,1)" font-size="15.51" font-family='"Liberation Sans", sans-serif' font-weight="bold" fill="#000">Pio</text>
<text transform="translate(315.69,1005.74) rotate(-90) scale(1.0590,1)" font-size="16.46" font-family='"Liberation Sans", sans-serif' font-weight="bold" fill="#000">Veh</text>
<text transform="translate(348.39,1004.08) rotate(-90) scale(1.0825,1)" font-size="16.05" font-family='"Liberation Sans", sans-serif' font-weight="bold" fill="#000">Pio</text>
<line x1="233.4" y1="1012.4" x2="290.8" y2="1012.4" stroke="#000" stroke-width="2.3" />
<line x1="304.6" y1="1012.4" x2="362.7" y2="1012.4" stroke="#000" stroke-width="2.3" />
<text transform="translate(277.65,1031.25) scale(0.9755,1)" font-size="16.52" font-family='"Liberation Sans", sans-serif' font-weight="bold" style="" fill="#000" stroke="#000" stroke-width="0.05">WT</text>
<text transform="translate(317.27,1031.09) scale(1.0623,1)" font-size="16.06" font-family='"Liberation Sans", sans-serif' font-weight="bold" style="" fill="#000" stroke="#000" stroke-width="0.05">CGD</text>
<text transform="translate(290.46,803.49) scale(1.0723,1)" font-size="16.06" font-family='"Liberation Sans", sans-serif' font-weight="bold" style="" fill="#000" stroke="#000" stroke-width="0.2">CD36</text>
<line x1="387.4" y1="798.5" x2="387.4" y2="969" stroke="#000" stroke-width="2" />
<line x1="384.4" y1="967.5" x2="387.4" y2="967.5" stroke="#000" stroke-width="1.8" />
<line x1="384.4" y1="946.5" x2="387.4" y2="946.5" stroke="#000" stroke-width="1.8" />
<line x1="384.4" y1="925.5" x2="387.4" y2="925.5" stroke="#000" stroke-width="1.8" />
<line x1="384.4" y1="904.5" x2="387.4" y2="904.5" stroke="#000" stroke-width="1.8" />
<line x1="384.4" y1="883.5" x2="387.4" y2="883.5" stroke="#000" stroke-width="1.8" />
<line x1="384.4" y1="862.5" x2="387.4" y2="862.5" stroke="#000" stroke-width="1.8" />
<line x1="384.4" y1="841.5" x2="387.4" y2="841.5" stroke="#000" stroke-width="1.8" />
<line x1="384.4" y1="820.5" x2="387.4" y2="820.5" stroke="#000" stroke-width="1.8" />
<line x1="384.4" y1="799.5" x2="387.4" y2="799.5" stroke="#000" stroke-width="1.8" />
<line x1="386.4" y1="968" x2="520" y2="968" stroke="#000" stroke-width="2.2" />
<rect x="397.15" y="840.25" width="12.70" height="127.60" fill="#222" stroke="#000" stroke-width="2.3"/>
<line x1="403.5" y1="840.1" x2="403.5" y2="807.4" stroke="#000" stroke-width="2.3" />
<line x1="399.9" y1="807.4" x2="407.1" y2="807.4" stroke="#000" stroke-width="2.5" />
<rect x="429.25" y="830.45" width="14.00" height="137.40" fill="#fff" stroke="#000" stroke-width="2.3"/>
<line x1="436.25" y1="830.3" x2="436.25" y2="828" stroke="#000" stroke-width="2.3" />
<line x1="432.65" y1="828" x2="439.85" y2="828" stroke="#000" stroke-width="2.5" />
<rect x="462.35" y="891.45" width="12.70" height="76.40" fill="#858585" stroke="#000" stroke-width="2.3"/>
<line x1="468.7" y1="891.3" x2="468.7" y2="882.5" stroke="#000" stroke-width="2.3" />
<line x1="465.09999999999997" y1="882.5" x2="472.3" y2="882.5" stroke="#000" stroke-width="2.5" />
<path d="M468.75,875.87L468.75,872.56M468.75,875.87L471.90,874.85M468.75,875.87L470.70,878.55M468.75,875.87L466.80,878.55M468.75,875.87L465.60,874.85" stroke="#000" stroke-width="1.6" stroke-linecap="butt" fill="none"/>
<rect x="495.55" y="860.85" width="12.70" height="107.00" fill="#c6c6c8" stroke="#000" stroke-width="2.3"/>
<line x1="501.9" y1="860.7" x2="501.9" y2="847.9" stroke="#000" stroke-width="2.3" />
<line x1="498.29999999999995" y1="847.9" x2="505.5" y2="847.9" stroke="#000" stroke-width="2.5" />
<path d="M499.76,835.90L498.82,844.30M502.45,835.90L501.51,844.30M496.95,838.92L503.65,838.92M496.85,841.61L503.32,841.61" stroke="#000" stroke-width="1.3" fill="none"/>
<text transform="translate(356.69,809.18) scale(1.0472,1)" font-size="16.90" font-family='"Liberation Sans", sans-serif' font-weight="bold" style="" fill="#000" stroke="#000" stroke-width="0.2">100</text>
<text transform="translate(366.04,890.69) scale(1.0417,1)" font-size="16.34" font-family='"Liberation Sans", sans-serif' font-weight="bold" style="" fill="#000" stroke="#000" stroke-width="0.2">50</text>
<text transform="translate(376.04,974.29) scale(0.9407,1)" font-size="16.34" font-family='"Liberation Sans", sans-serif' font-weight="bold" style="" fill="#000" stroke="#000" stroke-width="0.2">0</text>
<text transform="translate(407.69,1003.74) rotate(-90) scale(1.0484,1)" font-size="16.46" font-family='"Liberation Sans", sans-serif' font-weight="bold" fill="#000">Veh</text>
<text transform="translate(439.99,1002.67) rotate(-90) scale(1.1072,1)" font-size="15.51" font-family='"Liberation Sans", sans-serif' font-weight="bold" fill="#000">Pio</text>
<text transform="translate(473.69,1003.74) rotate(-90) scale(1.0484,1)" font-size="16.46" font-family='"Liberation Sans", sans-serif' font-weight="bold" fill="#000">Veh</text>
<text transform="translate(505.99,1002.67) rotate(-90) scale(1.1072,1)" font-size="15.51" font-family='"Liberation Sans", sans-serif' font-weight="bold" fill="#000">Pio</text>
<line x1="390.7" y1="1010.4" x2="448.1" y2="1010.4" stroke="#000" stroke-width="2.3" />
<line x1="462.1" y1="1010.4" x2="520" y2="1010.4" stroke="#000" stroke-width="2.3" />
<text transform="translate(412.75,1029.75) scale(1.0068,1)" font-size="16.52" font-family='"Liberation Sans", sans-serif' font-weight="bold" style="" fill="#000" stroke="#000" stroke-width="0.05">WT</text>
<text transform="translate(471.86,1029.59) scale(1.0710,1)" font-size="16.06" font-family='"Liberation Sans", sans-serif' font-weight="bold" style="" fill="#000" stroke="#000" stroke-width="0.05">CGD</text>
<text transform="translate(451.41,803.65) scale(1.0579,1)" font-size="16.52" font-family='"Liberation Sans", sans-serif' font-weight="bold" style="" fill="#000" stroke="#000" stroke-width="0.2">MMR</text>
</svg>
</body></html>
